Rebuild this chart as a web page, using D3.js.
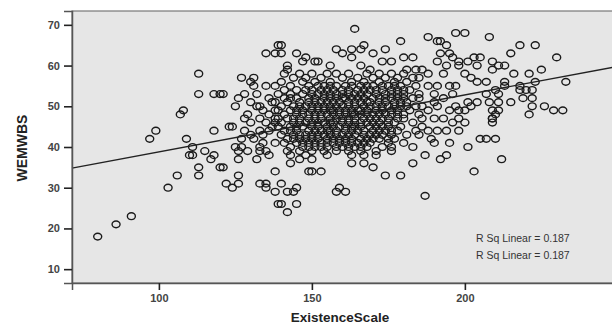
<!DOCTYPE html>
<html>
<head>
<meta charset="utf-8">
<script src="https://cdn.jsdelivr.net/npm/d3@7/dist/d3.min.js"></script>
<style>
  body { margin: 0; background: #fff; }
  svg text { font-family: "Liberation Sans", Arial, sans-serif; }
</style>
</head>
<body>
<div id="wrap"></div>
<script>
// scatter points: existence scale (x) and wemwbs (y)
const existence = [
  80, 86, 91, 97, 99, 103, 106, 107, 108, 109, 111, 110, 111, 113, 113, 113, 113, 115, 118, 117,
  118, 120, 121, 118, 120, 121, 122, 124, 126, 126, 126, 123, 124, 125, 127, 129, 126, 125, 126, 128,
  130, 132, 133, 128, 127, 131, 130, 131, 135, 138, 135, 138, 139, 145, 142, 142, 147, 151, 133, 136,
  138, 135, 138, 133, 137, 133, 133, 135, 132, 136, 134, 138, 134, 133, 135, 135, 138, 138, 139, 140,
  142, 144, 145, 140, 145, 142, 149, 150, 153, 158, 159, 161, 143, 146, 150, 143, 148, 155, 163, 163,
  167, 170, 167, 171, 176, 176, 183, 174, 179, 183, 187, 187, 192, 194, 203, 212, 201, 205, 207, 210,
  190, 164, 188, 197, 200, 208, 179, 191, 192, 194, 218, 223, 215, 230, 233, 226, 229, 232, 221, 209,
  209, 225, 222, 222, 218, 204, 205, 213, 211, 192, 195, 196, 198, 191, 194, 198, 201, 203, 209, 209,
  216, 221, 186, 188, 185, 193, 200, 202, 204, 207, 188, 191, 195, 197, 213, 213, 218, 220, 223, 210,
  211, 207, 190, 193, 196, 185, 186, 190, 201, 204, 208, 211, 215, 219, 222, 188, 191, 195, 198, 200,
  202, 209, 210, 209, 211, 186, 190, 193, 196, 198, 191, 194, 188, 140, 140, 160, 163, 166, 167, 170,
  174, 180, 183, 163, 166, 169, 173, 176, 181, 184, 152,
  141, 146, 150, 155, 158, 162, 168, 172, 176, 180,
  144, 148, 153, 160, 165, 170, 174, 178, 183,
  140, 147, 151, 156, 163, 167, 172, 177, 181,
  143, 149, 154, 158, 161, 166, 170, 175, 179, 184,
  141, 145, 150, 153, 157, 162, 165, 169, 173, 178, 182,
  139, 143, 147, 152, 156, 160, 164, 168, 171, 176, 180, 185,
  141, 145, 149, 154, 158, 161, 163, 167, 170, 174, 178, 183,
  138, 142, 146, 151, 155, 159, 162, 166, 169, 172, 177, 181,
  140, 144, 148, 152, 156, 160, 164, 167, 171, 175, 179, 184,
  139, 143, 147, 150, 154, 157, 161, 165, 168, 173, 176, 182,
  141, 145, 149, 153, 155, 159, 163, 166, 170, 174, 178, 185,
  138, 142, 146, 151, 156, 158, 162, 167, 171, 175, 180,
  140, 144, 148, 152, 154, 157, 160, 164, 168, 172, 177, 183,
  139, 143, 147, 150, 155, 159, 163, 166, 169, 173, 179,
  141, 145, 149, 153, 156, 161, 165, 170, 174, 178, 184,
  140, 144, 148, 152, 154, 158, 162, 167, 171, 176, 181,
  142, 146, 150, 155, 159, 163, 166, 172, 177,
  141, 145, 149, 153, 157, 161, 165, 169, 175, 180,
  143, 147, 151, 155, 160, 164, 168, 173,
  142, 146, 150, 154, 158, 162, 166, 171,
  128, 130, 131, 129, 132, 136, 134, 137, 130, 136, 139, 127,
  186, 189, 195, 198, 185, 200, 197, 148, 156, 158,
  152, 156, 163, 168, 173, 177,
  148, 155, 160, 167, 171, 176, 180,
  150, 154, 158, 162, 166, 174, 178,
  143, 151, 156, 160, 165, 172, 176, 180,
  149, 153, 157, 164, 168, 174, 179,
  146, 150, 154, 158, 162, 169, 173, 177, 181,
  145, 152, 156, 159, 163, 166, 171, 178,
  147, 151, 157, 161, 164, 168, 172, 176, 180,
  144, 149, 153, 160, 164, 169, 173, 178,
  146, 150, 156, 162, 166, 170, 175,
  145, 152, 157, 161, 164, 171, 175,
  143, 151, 155, 158, 163, 167, 172, 176,
  146, 150, 156, 160, 164, 169, 173,
  144, 148, 152, 157, 161, 168, 170, 175,
  147, 151, 155, 159, 163, 167,
  149, 153, 158, 162, 166
];
const wemwbs = [
  18, 21, 23, 42, 44, 30, 33, 48, 49, 42, 40, 38, 38, 58, 53, 35, 33, 39, 38, 37,
  53, 53, 53, 44, 35, 35, 31, 30, 31, 33, 37, 45, 45, 40, 40, 39, 39, 50, 52, 53,
  51, 50, 50, 47, 57, 57, 56, 55, 55, 55, 63, 63, 65, 63, 60, 59, 61, 61, 47, 48,
  49, 46, 46, 44, 45, 40, 39, 39, 37, 38, 41, 41, 43, 31, 31, 30, 29, 34, 26, 31,
  29, 29, 30, 26, 26, 24, 34, 34, 34, 29, 30, 29, 36, 37, 37, 38, 38, 38, 38, 36,
  36, 35, 38, 38, 39, 40, 40, 33, 33, 36, 28, 38, 37, 38, 34, 37, 40, 42, 42, 42,
  41, 69, 67, 68, 68, 67, 66, 66, 66, 65, 65, 65, 63, 62, 56, 50, 49, 49, 48, 47,
  46, 59, 54, 52, 54, 60, 62, 60, 60, 63, 63, 62, 61, 61, 60, 60, 61, 62, 61, 59,
  58, 58, 59, 58, 57, 58, 58, 57, 56, 56, 55, 55, 55, 55, 56, 55, 55, 54, 56, 54,
  53, 53, 53, 52, 53, 52, 50, 51, 51, 51, 51, 51, 51, 52, 50, 49, 50, 49, 49, 49,
  50, 49, 48, 47, 49, 47, 47, 47, 46, 47, 44, 44, 44, 65, 63, 63, 64, 64, 65, 63,
  64, 62, 62, 62, 60, 59, 61, 61, 59, 59, 61,
  58, 58, 58, 58, 58, 58, 58, 58, 58, 58,
  57, 57, 57, 57, 57, 57, 57, 57, 57,
  56, 56, 56, 56, 56, 56, 56, 56, 56,
  55, 55, 55, 55, 55, 55, 55, 55, 55, 55,
  54, 54, 54, 54, 54, 54, 54, 54, 54, 54, 54,
  53, 53, 53, 53, 53, 53, 53, 53, 53, 53, 53, 53,
  52, 52, 52, 52, 52, 52, 52, 52, 52, 52, 52, 52,
  51, 51, 51, 51, 51, 51, 51, 51, 51, 51, 51, 51,
  50, 50, 50, 50, 50, 50, 50, 50, 50, 50, 50, 50,
  49, 49, 49, 49, 49, 49, 49, 49, 49, 49, 49, 49,
  48, 48, 48, 48, 48, 48, 48, 48, 48, 48, 48, 48,
  47, 47, 47, 47, 47, 47, 47, 47, 47, 47, 47,
  46, 46, 46, 46, 46, 46, 46, 46, 46, 46, 46, 46,
  45, 45, 45, 45, 45, 45, 45, 45, 45, 45, 45,
  44, 44, 44, 44, 44, 44, 44, 44, 44, 44, 44,
  43, 43, 43, 43, 43, 43, 43, 43, 43, 43, 43,
  42, 42, 42, 42, 42, 42, 42, 42, 42,
  41, 41, 41, 41, 41, 41, 41, 41, 41, 41,
  40, 40, 40, 40, 40, 40, 40, 40,
  39, 39, 39, 39, 39, 39, 39, 39,
  44, 46, 42, 48, 53, 52, 49, 51, 43, 44, 47, 42,
  45, 42, 41, 44, 43, 46, 50, 62, 60, 64,
  55, 55, 55, 55, 55, 55,
  54, 54, 54, 54, 54, 54, 54,
  53, 53, 53, 53, 53, 53, 53,
  52, 52, 52, 52, 52, 52, 52, 52,
  51, 51, 51, 51, 51, 51, 51,
  50, 50, 50, 50, 50, 50, 50, 50, 50,
  49, 49, 49, 49, 49, 49, 49, 49,
  48, 48, 48, 48, 48, 48, 48, 48, 48,
  47, 47, 47, 47, 47, 47, 47, 47,
  46, 46, 46, 46, 46, 46, 46,
  45, 45, 45, 45, 45, 45, 45,
  44, 44, 44, 44, 44, 44, 44, 44,
  43, 43, 43, 43, 43, 43, 43,
  42, 42, 42, 42, 42, 42, 42, 42,
  41, 41, 41, 41, 41, 41,
  40, 40, 40, 40, 40
];
const xTicks = [100, 150, 200];
const yTicks = [10, 20, 30, 40, 50, 60, 70];
// fit line and label
const fitIntercept = 24.8;
const fitSlope = 0.14;
const fitLabels = ["R Sq Linear = 0.187", "R Sq Linear = 0.187"];

const W = 612, H = 327;
const margin = {top: 11, right: -8, bottom: 44, left: 72};
const width = W - margin.left - margin.right,
      height = H - margin.top - margin.bottom;

const svg = d3.select("#wrap").append("svg")
    .attr("width", W)
    .attr("height", H);

const g = svg.append("g")
    .attr("transform", "translate(" + margin.left + "," + margin.top + ")");

const x = d3.scaleLinear().domain([71.6, 250.7]).range([0, width]);
const y = d3.scaleLinear().domain([6.6, 73.4]).range([height, 0]);

// plot background
g.append("rect")
    .attr("width", width)
    .attr("height", height)
    .attr("fill", "#e6e6e6")
    .attr("stroke", "#777")
    .attr("stroke-width", 1.2);

// points
g.selectAll(".pt")
    .data(existence.map((d, i) => [d, wemwbs[i]]))
  .enter().append("ellipse")
    .attr("class", "pt")
    .attr("cx", d => x(d[0]))
    .attr("cy", d => y(d[1]))
    .attr("rx", 4)
    .attr("ry", 3.4)
    .attr("fill", "none")
    .attr("stroke", "#1a1a1a")
    .attr("stroke-width", 1.4);

// regression line
const xd = x.domain();
g.append("line")
    .attr("x1", x(xd[0])).attr("y1", y(fitIntercept + fitSlope * xd[0]))
    .attr("x2", x(xd[1])).attr("y2", y(fitIntercept + fitSlope * xd[1]))
    .attr("stroke", "#222")
    .attr("stroke-width", 1.4);

// r sq labels
g.selectAll(".rsq")
    .data(fitLabels)
  .enter().append("text")
    .attr("class", "rsq")
    .attr("x", 476 - margin.left)
    .attr("y", (d, i) => 242 - margin.top + i * 17)
    .attr("font-size", 10.5)
    .attr("fill", "#333")
    .text(d => d);

// axes
const yAxis = g.append("g")
    .call(d3.axisLeft(y).tickValues(yTicks).tickSize(8).tickPadding(4));
const xAxis = g.append("g")
    .attr("transform", "translate(0," + height + ")")
    .call(d3.axisBottom(x).tickValues(xTicks).tickSize(7).tickPadding(4));

[yAxis, xAxis].forEach(a => {
  a.select(".domain").attr("stroke", "#555").attr("stroke-width", 1.5);
  a.selectAll(".tick line").attr("stroke", "#222").attr("stroke-width", 1.6);
  a.selectAll(".tick text")
      .attr("font-size", 11)
      .attr("font-weight", "bold")
      .attr("fill", "#444")
      .attr("font-family", "'Liberation Sans', Arial, sans-serif");
});

// axis titles
svg.append("text")
    .attr("x", 340)
    .attr("y", 322)
    .attr("text-anchor", "middle")
    .attr("font-size", 13.5)
    .attr("font-weight", "bold")
    .attr("fill", "#222")
    .text("ExistenceScale");

svg.append("text")
    .attr("transform", "translate(27,148) rotate(-90)")
    .attr("text-anchor", "middle")
    .attr("font-size", 14)
    .attr("font-weight", "bold")
    .attr("fill", "#222")
    .attr("font-family", "'Liberation Sans Narrow', 'Liberation Sans', Arial, sans-serif")
    .text("WEMWBS");
</script>
</body>
</html>
